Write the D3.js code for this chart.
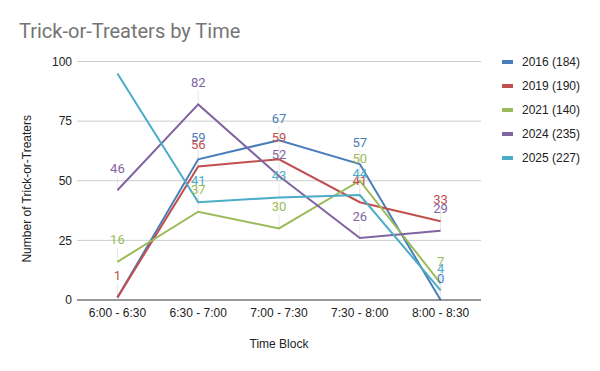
<!DOCTYPE html>
<html>
<head>
<meta charset="utf-8">
<script src="https://cdn.jsdelivr.net/npm/d3@7"></script>
<style>
  body { margin: 0; background: #fff; }
  svg text { font-family: "Liberation Sans", Arial, sans-serif; }
</style>
</head>
<body>
<svg id="chart" width="600" height="371"></svg>
<script>
// categories + series values
var timeBlocks = ["6:00 - 6:30", "6:30 - 7:00", "7:00 - 7:30", "7:30 - 8:00", "8:00 - 8:30"];
var seriesNames = ["2016 (184)", "2019 (190)", "2021 (140)", "2024 (235)", "2025 (227)"];
var v2016 = [1, 59, 67, 57, 0];
var v2019 = [1, 56, 59, 41, 33];
var v2021 = [16, 37, 30, 50, 7];
var v2024 = [46, 82, 52, 26, 29];
var v2025 = [95, 41, 43, 44, 4];
var yTicks = [0, 25, 50, 75, 100];
var colors = ["#4a7ebb", "#c0504d", "#9bbb59", "#8064a2", "#4bacc6"];
// labels that sheets dropped because of overlap
var hiddenLabels = [[0, 0], [4, 0]];

var allValues = [v2016, v2019, v2021, v2024, v2025];
var series = seriesNames.map(function(n, i) {
    return { name: n, color: colors[i], values: allValues[i] };
});

var svg = d3.select("#chart");
var margin = { left: 77, right: 119, top: 61.5, bottom: 71 };
var W = 600, H = 371;

var x = d3.scaleBand().domain(timeBlocks).range([margin.left, W - margin.right]);
var y = d3.scaleLinear().domain([0, 100]).range([H - margin.bottom, margin.top]);
var cx = function(d) { return x(d) + x.bandwidth() / 2; };

// title
svg.append("text")
    .attr("x", 19).attr("y", 38)
    .attr("fill", "#757575")
    .style("font-size", "20px")
    .style("font-family", "Roboto, sans-serif")
    .text("Trick-or-Treaters by Time");

// gridlines
svg.append("g").selectAll("line")
    .data(yTicks.filter(function(t) { return t > 0; }))
    .enter().append("line")
    .attr("x1", margin.left).attr("x2", W - margin.right)
    .attr("y1", function(d) { return y(d); }).attr("y2", function(d) { return y(d); })
    .attr("stroke", "#cccccc").attr("stroke-width", 1);

// y axis labels
var yAxis = svg.append("g")
    .attr("transform", "translate(" + (margin.left - 5) + ",0)")
    .call(d3.axisLeft(y).tickValues(yTicks).tickSize(0).tickPadding(0));
yAxis.select(".domain").remove();
yAxis.selectAll("text").attr("fill", "#222").style("font-size", "12px");

// x axis labels
var xAxis = svg.append("g")
    .attr("transform", "translate(0," + (H - margin.bottom) + ")")
    .call(d3.axisBottom(x).tickSize(0).tickPadding(8));
xAxis.select(".domain").remove();
xAxis.selectAll("text").attr("fill", "#222").style("font-size", "12px");

// axis titles
svg.append("text")
    .attr("x", cx(timeBlocks[2])).attr("y", 348)
    .attr("text-anchor", "middle").attr("fill", "#222")
    .style("font-size", "12px")
    .text("Time Block");
svg.append("text")
    .attr("transform", "translate(31," + ((y(0) + y(100)) / 2 + 8) + ") rotate(-90)")
    .attr("text-anchor", "middle").attr("fill", "#222")
    .style("font-size", "12px")
    .text("Number of Trick-or-Treaters");

function isHidden(si, pi) {
    return hiddenLabels.some(function(h) { return h[0] == si && h[1] == pi; });
}

// points with their category, minus the hidden labels
function labelPoints(s, si) {
    return s.values.map(function(v, i) { return { v: v, cat: timeBlocks[i], i: i }; })
        .filter(function(p) { return !isHidden(si, p.i); });
}

// label stems (faint)
series.forEach(function(s, si) {
    svg.append("g").selectAll("line")
        .data(labelPoints(s, si))
        .enter().append("line")
        .attr("x1", function(p) { return cx(p.cat); })
        .attr("x2", function(p) { return cx(p.cat); })
        .attr("y1", function(p) { return y(p.v); })
        .attr("y2", function(p) { return y(p.v) - 14; })
        .attr("stroke", "#e6e6e6").attr("stroke-width", 1);
});

// lines
var line = d3.line()
    .x(function(d, i) { return cx(timeBlocks[i]); })
    .y(function(d) { return y(d); });
svg.append("g").selectAll("path")
    .data(series)
    .enter().append("path")
    .attr("d", function(s) { return line(s.values); })
    .attr("fill", "none")
    .attr("stroke", function(s) { return s.color; })
    .attr("stroke-width", 2);

// baseline
svg.append("line")
    .attr("x1", margin.left).attr("x2", W - margin.right)
    .attr("y1", y(0)).attr("y2", y(0))
    .attr("stroke", "#333").attr("stroke-width", 1);

// data labels
series.forEach(function(s, si) {
    svg.append("g").selectAll("text")
        .data(labelPoints(s, si))
        .enter().append("text")
        .attr("x", function(p) { return cx(p.cat); })
        .attr("y", function(p) { return y(p.v) - 22; })
        .attr("dy", "0.35em")
        .attr("text-anchor", "middle")
        .attr("fill", s.color)
        .style("font-size", "13px")
        .style("font-family", "Roboto, sans-serif")
        .text(function(p) { return p.v; });
});

// legend
var leg = svg.append("g").selectAll("g")
    .data(series)
    .enter().append("g")
    .attr("transform", function(d, i) { return "translate(502," + (62 + i * 24) + ")"; });
leg.append("rect")
    .attr("x", 0).attr("y", -2).attr("width", 11).attr("height", 4)
    .attr("fill", function(d) { return d.color; });
leg.append("text")
    .attr("x", 20).attr("y", 0).attr("dy", "0.35em")
    .attr("fill", "#222")
    .style("font-size", "12px")
    .text(function(d) { return d.name; });
</script>
</body>
</html>
